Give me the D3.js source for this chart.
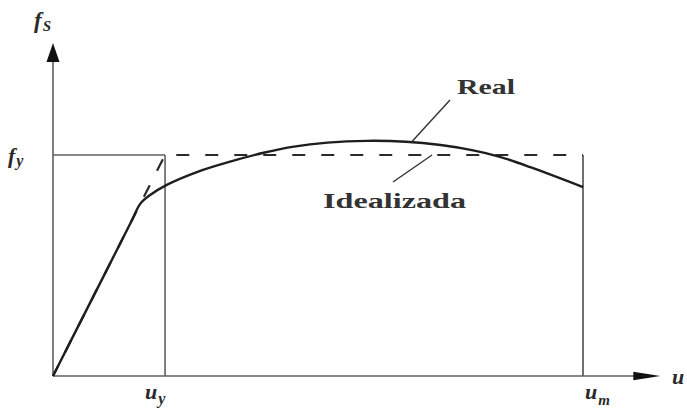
<!DOCTYPE html>
<html>
<head>
<meta charset="utf-8">
<script src="https://cdn.jsdelivr.net/npm/d3@7/dist/d3.min.js"></script>
<style>
  html, body { margin: 0; padding: 0; background: #fff; }
  svg { display: block; }
  .math { font-family: "Liberation Serif", "DejaVu Serif", serif; font-style: italic; font-weight: bold; fill: #2a2a2a; }
  .lbl { font-family: "Liberation Serif", "DejaVu Serif", serif; font-weight: bold; fill: #333; }
</style>
</head>
<body>
<svg id="chart" width="687" height="413"></svg>
<script>
// Stress–deformation curve: real behaviour vs. idealized elasto-plastic model
const uY = 1.0;      // yield deformation
const uM = 4.73;     // ultimate deformation
const fY = 1.0;      // yield stress

// real curve (deformation, stress)
const realU = [0, 0.35, 0.70, 0.78, 0.87, 1.02, 1.29, 1.58, 1.88, 2.15, 2.45, 2.80, 3.15, 3.46, 3.75, 3.98, 4.26, 4.73];
const realF = [0, 0.35, 0.70, 0.78, 0.82, 0.866, 0.924, 0.970, 1.010, 1.038, 1.056, 1.064, 1.060, 1.045, 1.021, 0.993, 0.945, 0.855];

// idealized bilinear model
const idealU = [0, uY, uM];
const idealF = [0, fY, fY];

const uAxisMax = 5.42;
const fAxisMax = 1.507;

const svg = d3.select("#chart");
const x = d3.scaleLinear().domain([0, uM]).range([53, 583]);
const y = d3.scaleLinear().domain([0, fY]).range([376, 155]);

const thin = "#606060";
const dark = "#1e1e1e";

// axes
svg.append("line").attr("x1", x(0)).attr("y1", y(0)).attr("x2", x(uAxisMax) - 20).attr("y2", y(0))
  .attr("stroke", thin).attr("stroke-width", 1.6);
svg.append("line").attr("x1", x(0)).attr("y1", y(0)).attr("x2", x(0)).attr("y2", y(fAxisMax) + 14)
  .attr("stroke", thin).attr("stroke-width", 1.6);
// arrow heads
const xt = x(uAxisMax), yt = y(fAxisMax);
svg.append("path").attr("d", `M${xt},${y(0)} L${xt - 27},${y(0) - 4.2} L${xt - 27},${y(0) + 4.2} Z`).attr("fill", "#111");
svg.append("path").attr("d", `M${x(0)},${yt} L${x(0) - 6.5},${yt + 19} L${x(0) + 6.5},${yt + 19} Z`).attr("fill", "#111");

// reference lines at fy, uy, um
svg.append("line").attr("x1", x(0)).attr("y1", y(fY)).attr("x2", x(uY)).attr("y2", y(fY))
  .attr("stroke", thin).attr("stroke-width", 1.6);
svg.append("line").attr("x1", x(uY)).attr("y1", y(fY)).attr("x2", x(uY)).attr("y2", y(0))
  .attr("stroke", thin).attr("stroke-width", 1.6);
svg.append("line").attr("x1", x(uM)).attr("y1", y(fY)).attr("x2", x(uM)).attr("y2", y(0))
  .attr("stroke", thin).attr("stroke-width", 1.8);

// idealized model (dashed)
const idealLine = d3.line().x((d, i) => x(idealU[i])).y((d, i) => y(idealF[i]));
svg.append("path").datum(idealU).attr("d", idealLine)
  .attr("fill", "none").attr("stroke", "#2a2a2a").attr("stroke-width", 2.2)
  .attr("stroke-dasharray", "13,16").attr("stroke-dashoffset", 2);

// real curve
const realLine = d3.line().x((d, i) => x(realU[i])).y((d, i) => y(realF[i])).curve(d3.curveCatmullRom.alpha(0.5));
svg.append("path").datum(realU).attr("d", realLine)
  .attr("fill", "none").attr("stroke", dark).attr("stroke-width", 2.4);

// annotations with leader lines
svg.append("line").attr("x1", 450).attr("y1", 100).attr("x2", x(3.2)).attr("y2", y(1.059))
  .attr("stroke", "#333").attr("stroke-width", 1.4);
svg.append("text").attr("class", "lbl").attr("x", 457).attr("y", 94)
  .attr("font-size", 21).attr("textLength", 58).attr("lengthAdjust", "spacingAndGlyphs").text("Real");

svg.append("line").attr("x1", 432).attr("y1", y(fY)).attr("x2", 393).attr("y2", 182)
  .attr("stroke", "#333").attr("stroke-width", 1.4);
svg.append("text").attr("class", "lbl").attr("x", 323).attr("y", 208)
  .attr("font-size", 21).attr("textLength", 143).attr("lengthAdjust", "spacingAndGlyphs").text("Idealizada");

// math labels
function mathLabel(px, py, main, sub, size, subSize, dy) {
  const t = svg.append("text").attr("class", "math").attr("x", px).attr("y", py).attr("font-size", size);
  t.append("tspan").text(main);
  t.append("tspan").attr("font-size", subSize).attr("dy", dy).attr("dx", 1).text(sub);
  return t;
}
mathLabel(34, 28, "f", "S", 23, 15, 3);
mathLabel(8, 163, "f", "y", 22, 16, 3);
mathLabel(x(uY) - 20, 399, "u", "y", 22, 16, 5);
mathLabel(x(uM) + 2, 399, "u", "m", 22, 15, 6);
svg.append("text").attr("class", "math").attr("x", 672).attr("y", 384).attr("font-size", 22).text("u");
</script>
</body>
</html>
